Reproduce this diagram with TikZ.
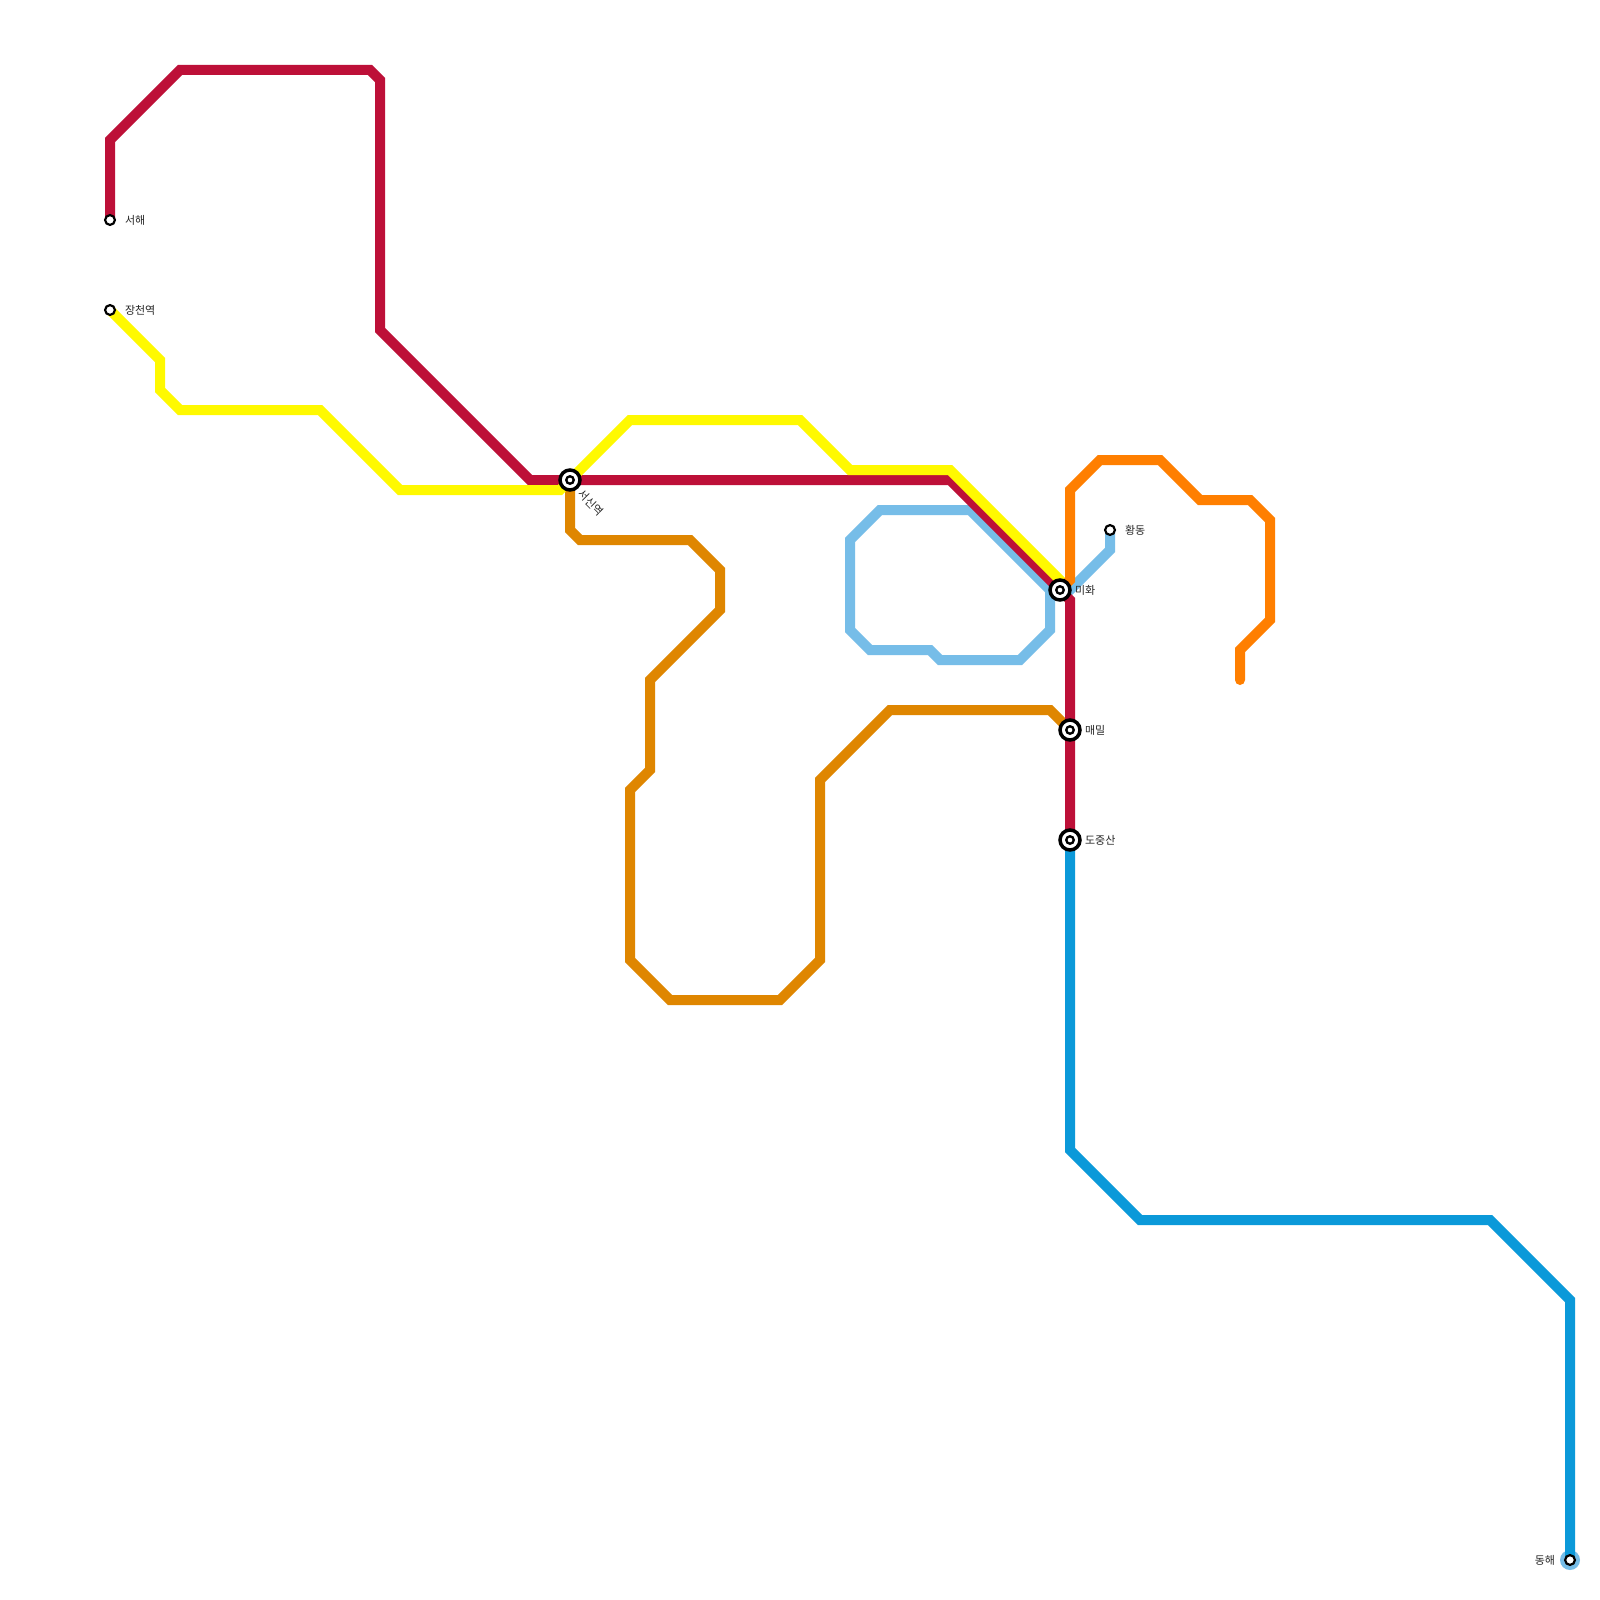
\documentclass[tikz,border=0pt]{standalone}
\usepackage{fontspec}
\newfontfamily\krfont{Noto Sans CJK KR}
\usetikzlibrary{backgrounds}
\definecolor{lred}{HTML}{BD1038}
\definecolor{lyellow}{HTML}{FFF900}
\definecolor{lochre}{HTML}{DF8600}
\definecolor{lorange}{HTML}{FF7F00}
\definecolor{lsky}{HTML}{76BDE8}
\definecolor{lblue}{HTML}{0B99D9}
\tikzset{
  x=0.5pt,y=-0.5pt,
  metro/.style={line width=5pt,line join=miter,line cap=butt},
  endround/.style={line width=5pt,line join=miter,line cap=round},
  major/.style={circle,draw=black,fill=white,line width=1.75pt,minimum size=10pt,inner sep=0pt,outer sep=0pt,
    path picture={\fill[black] (path picture bounding box.center) circle[radius=2.5pt];
                  \fill[white] (path picture bounding box.center) circle[radius=1.15pt];}},
  minor/.style={circle,draw=black,fill=white,line width=1.1pt,minimum size=4.9pt,inner sep=0pt,outer sep=0pt},
  lab/.style={font=\krfont\fontsize{5.5}{6.5}\selectfont,text=black!85,inner sep=0pt,outer sep=0pt},
}
\begin{document}
\begin{tikzpicture}
\useasboundingbox (0,0) rectangle (1600,1600);
% stations
\node[minor] (seohae) at (110,220) {};
\node[minor] (jangcheon) at (110,310) {};
\node[major] (seosin) at (570,480) {};
\node[major] (mihwa) at (1060,590) {};
\node[minor] (hwangdong) at (1110,530) {};
\node[major] (maemil) at (1070,730) {};
\node[major] (dojung) at (1070,840) {};
\node[minor] (donghae) at (1570,1560) {};
% labels
\node[lab,anchor=west] (l1) at (125,220) {서해};
\node[lab,anchor=west] (l2) at (125,310) {장천역};
\node[lab,anchor=west,rotate=-45] (l3) at (580,492) {서신역};
\node[lab,anchor=west] (l4) at (1075,590) {미화};
\node[lab,anchor=west] (l5) at (1125,530) {황동};
\node[lab,anchor=west] (l6) at (1085,730) {매밀};
\node[lab,anchor=west] (l7) at (1085,840) {도중산};
\node[lab,anchor=east] (l8) at (1555,1560) {동해};
\begin{pgfonlayer}{background}
\fill[white] (0,0) rectangle (1600,1600);
\fill[lsky] (donghae.center) circle[radius=5pt];
% ochre
\draw[metro,lochre] (seosin.center) -- (570,530) -- (580,540) -- (690,540) -- (720,570) -- (720,610) -- (650,680) -- (650,770) -- (630,790) -- (630,960) -- (670,1000) -- (780,1000) -- (820,960) -- (820,780) -- (890,710) -- (1050,710) -- (maemil.center);
% dark blue
\draw[metro,lblue] (dojung.center) -- (1070,1150) -- (1140,1220) -- (1490,1220) -- (1570,1300) -- (donghae.center);
% sky blue
\draw[metro,lsky] (hwangdong.center) -- (1110,550) -- (1070,590) -- (mihwa.center) -- (1050,590) -- (1050,630) -- (1020,660) -- (940,660) -- (930,650) -- (870,650) -- (850,630) -- (850,540) -- (880,510) -- (970,510) -- (1050,590);
% red
\draw[metro,lred] (seohae.center) -- (110,140) -- (180,70) -- (370,70) -- (380,80) -- (380,330) -- (530,480) -- (seosin.center) -- (950,480) -- (mihwa.center) -- (1070,600) -- (maemil.center) -- (dojung.center);
% yellow
\draw[metro,lyellow] (jangcheon.center) -- (160,360) -- (160,390) -- (180,410) -- (320,410) -- (400,490) -- (560,490) -- (seosin.center) -- (630,420) -- (800,420) -- (850,470) -- (950,470) -- (1060,580) -- (mihwa.center);
% orange
\draw[endround,lorange] (mihwa.center) -- (1070,580) -- (1070,490) -- (1100,460) -- (1160,460) -- (1200,500) -- (1250,500) -- (1270,520) -- (1270,620) -- (1240,650) -- (1240,680);
\end{pgfonlayer}
\end{tikzpicture}
\end{document}
